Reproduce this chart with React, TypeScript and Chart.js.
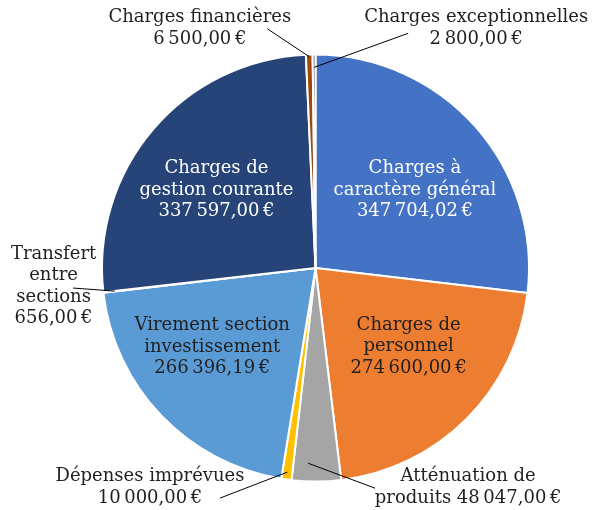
import React, { useEffect, useRef } from "react";
import { Chart, registerables } from "chart.js";

Chart.register(...registerables);

// ---- Data ----
const categories = [
  "Charges à\ncaractère général",
  "Charges de\npersonnel",
  "Atténuation de\nproduits",
  "Dépenses imprévues",
  "Virement section\ninvestissement",
  "Transfert\nentre\nsections",
  "Charges de\ngestion courante",
  "Charges financières",
  "Charges exceptionnelles",
];
const amounts = [347704.02, 274600.0, 48047.0, 10000.0, 266396.19, 656.0, 337597.0, 6500.0, 2800.0];
const sliceColors = ["#4472C4", "#ED7D31", "#A5A5A5", "#FFC000", "#5B9BD5", "#70AD47", "#264478", "#9E480E", "#636363"];
const textColors = ["#ffffff", "#1f1f1f", "#1f1f1f", "#1f1f1f", "#1f1f1f", "#1f1f1f", "#ffffff", "#1f1f1f", "#1f1f1f"];

// ---- Label layout (relative to each arc) ----
type Lay =
  | { kind: "in"; r: number; dA: number }
  | { kind: "out"; r: number; dA: number; lx: number; ly: number; sx: number; sy: number; sameLine?: boolean };
const labelLayout: Lay[] = [
  { kind: "in", r: 0.592, dA: 3.5 },
  { kind: "in", r: 0.571, dA: -4.7 },
  { kind: "out", r: 0.915, dA: 2.4, lx: 160, ly: 24, sx: 67, sy: 25, sameLine: true },
  { kind: "out", r: 0.965, dA: 0, lx: -137.4, ly: 15, sx: -67.4, sy: 26 },
  { kind: "in", r: 0.609, dA: 6.3 },
  { kind: "out", r: 0.946, dA: 0, lx: -61.3, ly: -4.6, sx: -41.8, sy: -3.1 },
  { kind: "in", r: 0.59, dA: -2.3 },
  { kind: "out", r: 0.99, dA: 0, lx: -109.5, ly: -28.5, sx: -42, sy: -28 },
  { kind: "out", r: 0.94, dA: 0, lx: 162, ly: -39, sx: 94, sy: -34 },
];

const FONT = "18px 'DejaVu Serif'";
const LINE_H = 21.5;

function formatEuro(v: number): string {
  const [intPart, dec] = v.toFixed(2).split(".");
  const grouped = intPart.replace(/\B(?=(\d{3})+(?!\d))/g, "\u202F");
  return grouped + "," + dec + "\u202F€";
}

const labelPlugin = {
  id: "sliceLabels",
  afterDatasetsDraw(chart: any) {
    const ctx = chart.ctx as CanvasRenderingContext2D;
    const meta = chart.getDatasetMeta(0);
    ctx.save();
    ctx.font = FONT;
    ctx.textAlign = "center";
    ctx.textBaseline = "middle";
    meta.data.forEach((arc: any, i: number) => {
      const p = arc.getProps(["x", "y", "startAngle", "endAngle", "outerRadius"], true);
      const lay = labelLayout[i];
      const mid = (p.startAngle + p.endAngle) / 2 + (lay.dA * Math.PI) / 180;
      const px = p.x + Math.cos(mid) * p.outerRadius * lay.r;
      const py = p.y + Math.sin(mid) * p.outerRadius * lay.r;
      const value = formatEuro(amounts[i]);
      let lines: string[];
      if (lay.kind === "out" && lay.sameLine) {
        lines = (categories[i] + " " + value).split("\n");
      } else {
        lines = (categories[i] + "\n" + value).split("\n");
      }
      let cx = px;
      let cy = py;
      if (lay.kind === "out") {
        ctx.strokeStyle = "#000000";
        ctx.lineWidth = 1;
        ctx.beginPath();
        ctx.moveTo(px + lay.sx, py + lay.sy);
        ctx.lineTo(px, py);
        ctx.stroke();
        cx = px + lay.lx;
        cy = py + lay.ly;
      }
      ctx.fillStyle = textColors[i];
      const top = cy - ((lines.length - 1) * LINE_H) / 2;
      lines.forEach((ln, k) => ctx.fillText(ln, cx, top + k * LINE_H));
    });
    ctx.restore();
  },
};

export default function App() {
  const ref = useRef<HTMLCanvasElement | null>(null);
  useEffect(() => {
    if (!ref.current) return;
    const chart = new Chart(ref.current, {
      type: "pie",
      data: {
        labels: categories.map((c) => c.replace(/\n/g, " ")),
        datasets: [
          {
            data: amounts,
            backgroundColor: sliceColors,
            borderColor: "#ffffff",
            borderWidth: 2,
          },
        ],
      },
      options: {
        responsive: false,
        animation: false,
        layout: { padding: { left: 101, right: 62, top: 53.5, bottom: 27.5 } },
        plugins: {
          legend: { display: false },
          tooltip: { enabled: false },
          title: { display: false },
        },
      },
      plugins: [labelPlugin],
    });
    return () => chart.destroy();
  }, []);
  return (
    <div style={{ position: "absolute", left: 0, top: 0, width: 592, height: 510, background: "#ffffff" }}>
      <canvas ref={ref} width={592} height={510} />
    </div>
  );
}
